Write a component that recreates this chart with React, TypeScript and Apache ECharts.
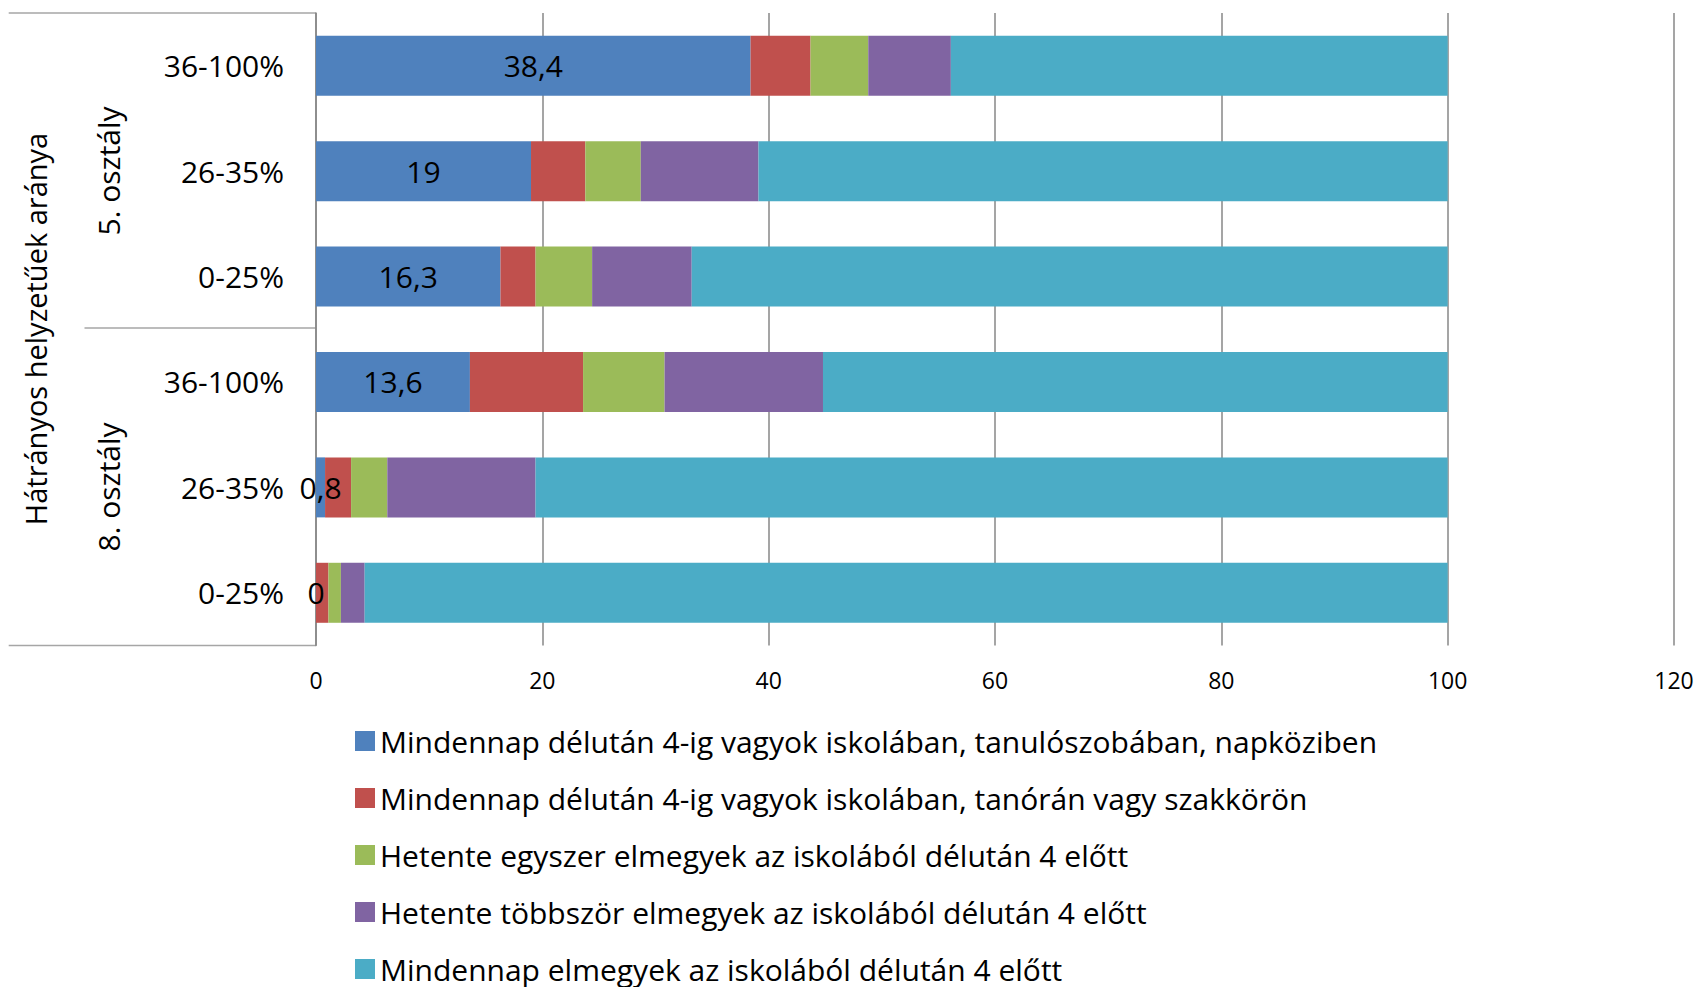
import React, { useEffect, useRef } from "react";
import * as echarts from "echarts";

const groups = ["5. osztály", "8. osztály"];
const bands = ["36-100%", "26-35%", "0-25%", "36-100%", "26-35%", "0-25%"];
const axisTitle = "Hátrányos helyzetűek aránya";
const seriesNames = [
  "Mindennap délután 4-ig vagyok iskolában, tanulószobában, napköziben",
  "Mindennap délután 4-ig vagyok iskolában, tanórán vagy szakkörön",
  "Hetente egyszer elmegyek az iskolából délután 4 előtt",
  "Hetente többször elmegyek az iskolából délután 4 előtt",
  "Mindennap elmegyek az iskolából délután 4 előtt",
];
const dailyStudyRoom = [38.4, 19, 16.3, 13.6, 0.8, 0];
const dailyClassOrClub = [5.3, 4.8, 3.1, 10.0, 2.3, 1.1];
const onceWeekly = [5.1, 4.9, 5.0, 7.2, 3.2, 1.1];
const severalWeekly = [7.3, 10.4, 8.8, 14.0, 13.1, 2.1];
const dailyLeave = [43.9, 60.9, 66.8, 55.2, 80.6, 95.7];
const colors = ["#4F81BD", "#C0504D", "#9BBB59", "#8064A2", "#4BACC6"];

const FONT = "Open Sans";

export default function App() {
  const ref = useRef<HTMLDivElement>(null);
  useEffect(() => {
    if (!ref.current) return;
    const chart = echarts.init(ref.current, undefined, { renderer: "svg" });
    const values = [dailyStudyRoom, dailyClassOrClub, onceWeekly, severalWeekly, dailyLeave];
    const frameColor = "#a6a6a6";
    chart.setOption({
      animation: false,
      color: colors,
      textStyle: { fontFamily: FONT },
      grid: { left: 316, right: 24, top: 13, bottom: 341.5, containLabel: false },
      xAxis: {
        type: "value",
        min: 0,
        max: 120,
        interval: 20,
        axisLine: { show: false },
        axisTick: { show: false },
        splitLine: { show: true, lineStyle: { color: "#878787", width: 1.5 } },
        axisLabel: { fontFamily: FONT, fontSize: 23, color: "#000", margin: 23 },
      },
      yAxis: {
        type: "category",
        inverse: true,
        data: bands.map((b, i) => `${i}:${b}`),
        axisLine: { show: true, lineStyle: { color: "#878787", width: 1.5 } },
        axisTick: { show: false },
        axisLabel: {
          fontFamily: FONT,
          fontSize: 30,
          color: "#000",
          margin: 32,
          formatter: (_v: string, i: number) => bands[i],
        },
      },
      legend: {
        orient: "vertical",
        left: 355,
        top: 726,
        height: 260,
        padding: 0,
        itemWidth: 20,
        itemHeight: 20,
        itemGap: 27,
        icon: "rect",
        textStyle: { fontFamily: FONT, fontSize: 30, color: "#000", lineHeight: 30 },
        data: seriesNames,
      },
      series: seriesNames.map((name, si) => ({
        name,
        type: "bar",
        stack: "total",
        barWidth: 60,
        data: values[si],
        itemStyle: { color: colors[si] },
        label:
          si === 0
            ? {
                show: true,
                position: "inside",
                fontFamily: FONT,
                fontSize: 30,
                color: "#000",
                formatter: (p: any) => String(p.value).replace(".", ","),
              }
            : { show: false },
      })),
      graphic: [
        { type: "line", shape: { x1: 8.7, y1: 13, x2: 316, y2: 13 }, style: { stroke: frameColor, lineWidth: 1.5 } },
        { type: "line", shape: { x1: 8.7, y1: 645.5, x2: 316, y2: 645.5 }, style: { stroke: frameColor, lineWidth: 1.5 } },
        { type: "line", shape: { x1: 84.5, y1: 328, x2: 316, y2: 328 }, style: { stroke: frameColor, lineWidth: 1.5 } },
        {
          type: "text",
          x: 35,
          y: 329,
          rotation: Math.PI / 2,
          style: { text: axisTitle, fontFamily: FONT, fontSize: 29, fill: "#000", textAlign: "center", textVerticalAlign: "middle" },
        },
        {
          type: "text",
          x: 108,
          y: 171,
          rotation: Math.PI / 2,
          style: { text: groups[0], fontFamily: FONT, fontSize: 30, fill: "#000", textAlign: "center", textVerticalAlign: "middle" },
        },
        {
          type: "text",
          x: 108,
          y: 487,
          rotation: Math.PI / 2,
          style: { text: groups[1], fontFamily: FONT, fontSize: 30, fill: "#000", textAlign: "center", textVerticalAlign: "middle" },
        },
      ],
    });
    return () => chart.dispose();
  }, []);
  return <div ref={ref} style={{ position: "absolute", left: 0, top: 0, width: 1698, height: 987 }} />;
}
